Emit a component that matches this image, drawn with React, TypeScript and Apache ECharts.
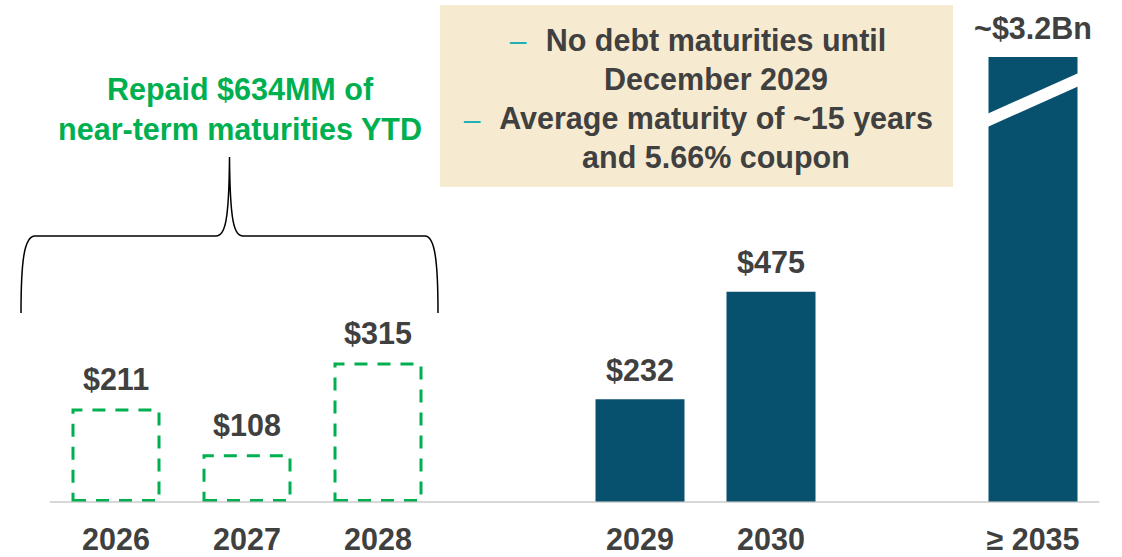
import React, { useEffect, useRef } from "react";
import * as echarts from "echarts";

const categories = ["2026", "2027", "2028", "", "2029", "2030", "", "≥ 2035"];
const repaidValues: (number | null)[] = [211, 108, 315, null, null, null, null, null];
const outstandingValues: (number | null)[] = [null, null, null, null, 232, 475, null, 3200];
const displayCap = 1005; // axis max; taller bars are drawn broken
const breakCenterValue = 908;
const breakHalfRise = 46;
const breakThickness = 30;
const boxLines = ["No debt maturities until", "December 2029", "Average maturity of ~15 years", "and 5.66% coupon"];
const greenLines = ["Repaid $634MM of", "near-term maturities YTD"];

const FONT = "'Liberation Sans', Arial, Helvetica, sans-serif";
const GREY = "#404040";
const GREEN = "#00b050";
const NAVY = "#07506e";
const BAR_W = 89;

const BRACE_D =
  "M21,313 C21,262 24,236 35,236 L216,236 C225,236 229,222 229.5,157 C230,222 234,236 243,236 L425,236 C435,236 438,262 438,313";
echarts.graphic.registerShape("brace", echarts.graphic.extendPath(BRACE_D, {}) as any);

function fmt(v: number) {
  return v >= 1000 ? "~$" + (v / 1000).toFixed(1) + "Bn" : "$" + v;
}

export default function App() {
  const ref = useRef<HTMLDivElement>(null);
  useEffect(() => {
    if (!ref.current) return;
    const chart = echarts.init(ref.current, null, { renderer: "svg" });
    const label = {
      show: true,
      position: "top",
      distance: 14,
      color: GREY,
      fontSize: 30.5,
      fontWeight: "bold",
      fontFamily: FONT,
      formatter: (p: any) => fmt(p.data.raw),
    };
    const toItems = (arr: (number | null)[]) =>
      arr.map((v) => (v == null ? null : { value: Math.min(v, displayCap), raw: v }));
    const breakData = outstandingValues
      .map((v, i) => (v != null && v > displayCap ? [i, breakCenterValue] : null))
      .filter((d) => d != null);

    chart.setOption({
      animation: false,
      grid: { left: 50.5, right: 23.5, top: 57, bottom: 55 },
      xAxis: {
        type: "category",
        data: categories,
        z: 5,
        axisLine: { lineStyle: { color: "rgba(190,190,190,0.6)", width: 2 } },
        axisTick: { show: false },
        axisLabel: {
          interval: 0,
          margin: 21,
          color: GREY,
          fontSize: 30.5,
          fontWeight: "bold",
          fontFamily: FONT,
        },
      },
      yAxis: {
        type: "value",
        min: 0,
        max: displayCap,
        show: false,
        splitLine: { show: false },
      },
      series: [
        {
          type: "bar",
          data: toItems(repaidValues),
          barWidth: BAR_W,
          barGap: "-100%",
          itemStyle: {
            color: "rgba(0,0,0,0)",
            borderColor: GREEN,
            borderWidth: 3,
            borderType: [13, 10],
          },
          label,
        },
        {
          type: "bar",
          data: toItems(outstandingValues),
          barWidth: BAR_W,
          barGap: "-100%",
          itemStyle: { color: NAVY },
          label,
        },
        {
          type: "custom",
          z: 10,
          data: breakData,
          renderItem: (params: any, api: any) => {
            const idx = api.value(0);
            const c = api.value(1);
            const half = BAR_W / 2 + 1;
            const lx = api.coord([idx, 0])[0] - half;
            const rx = lx + 2 * half;
            const yl1 = api.coord([idx, c - breakHalfRise - breakThickness / 2])[1];
            const yl2 = api.coord([idx, c - breakHalfRise + breakThickness / 2])[1];
            const yr1 = api.coord([idx, c + breakHalfRise - breakThickness / 2])[1];
            const yr2 = api.coord([idx, c + breakHalfRise + breakThickness / 2])[1];
            return {
              type: "polygon",
              shape: { points: [[lx, yl1], [lx, yl2], [rx, yr2], [rx, yr1]] },
              style: { fill: "#ffffff" },
            };
          },
        },
      ],
      graphic: [
        { type: "rect", shape: { x: 440, y: 5, width: 513, height: 182 }, style: { fill: "#f6ebd1" } },
        { type: "text", x: 518, y: 40, style: { text: "–", fill: "#1fb0b6", font: `30px ${FONT}`, align: "center", verticalAlign: "middle" } },
        { type: "text", x: 472, y: 119, style: { text: "–", fill: "#1fb0b6", font: `30px ${FONT}`, align: "center", verticalAlign: "middle" } },
        ...boxLines.map((t, i) => ({
          type: "text",
          x: 716,
          y: 39.5 + i * 39.2,
          style: { text: t, fill: GREY, font: `bold 30.5px ${FONT}`, align: "center", verticalAlign: "middle" },
        })),
        ...greenLines.map((t, i) => ({
          type: "text",
          x: 240,
          y: 89 + i * 39.5,
          style: { text: t, fill: GREEN, font: `bold 30.5px ${FONT}`, align: "center", verticalAlign: "middle" },
        })),
        { type: "brace", x: 0, y: 0, style: { stroke: "#000", fill: "none", lineWidth: 1.5 } },
      ],
    });
    return () => chart.dispose();
  }, []);
  return (
    <div
      ref={ref}
      style={{ position: "fixed", left: 0, top: 0, width: 1122, height: 557, background: "#fff" }}
    />
  );
}
